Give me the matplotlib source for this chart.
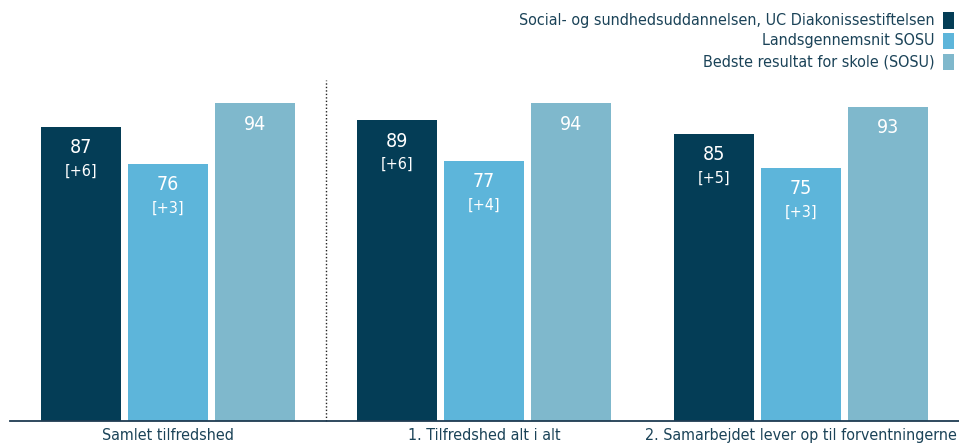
import matplotlib
matplotlib.use("Agg")
import matplotlib.pyplot as plt
from matplotlib.patches import Rectangle

categories = ["Samlet tilfredshed", "1. Tilfredshed alt i alt", "2. Samarbejdet lever op til forventningerne"]
series_names = ["Social- og sundhedsuddannelsen, UC Diakonissestiftelsen",
                "Landsgennemsnit SOSU",
                "Bedste resultat for skole (SOSU)"]
school = [87, 89, 85]
national = [76, 77, 75]
best = [94, 94, 93]
school_change = ["+6", "+6", "+5"]
national_change = ["+3", "+4", "+3"]

colors = ["#043D56", "#5DB5DA", "#7FB8CC"]
text_col = "#1B4358"

plt.rcParams['font.family'] = ['DejaVu Sans']

W, H = 959, 443
fig = plt.figure(figsize=(W/100, H/100), dpi=100)
ax = fig.add_axes([9.5/W, 22/H, 1 - 9.5/W, 338/H])
ax.set_xlim(-0.5, 2.5)
ax.set_ylim(0, 100)

step = 87/316.75
width = 80/316.75
all_vals = [school, national, best]
changes = [school_change, national_change, None]
for j, vals in enumerate(all_vals):
    xs = [i + (j - 1) * step for i in range(len(categories))]
    ax.bar(xs, vals, width=width, color=colors[j], zorder=2)
    for k, (x, v) in enumerate(zip(xs, vals)):
        ax.annotate(str(v), xy=(x, v), xytext=(0, -15), textcoords="offset points",
                    ha="center", va="center", color="white", fontsize=14, fontstretch="condensed")
        if changes[j] is not None:
            ax.annotate(f"[{changes[j][k]}]", xy=(x, v), xytext=(0, -32), textcoords="offset points",
                        ha="center", va="center", color="white", fontsize=11.5, fontstretch="condensed")

ax.axvline(0.5, ymin=0, ymax=(421 - 80) / 338, color="#222222", linestyle=(0, (1, 1.5)), lw=1, clip_on=False, zorder=1)

for s in ["top", "right", "left"]:
    ax.spines[s].set_visible(False)
ax.spines["bottom"].set_color("#1F3B52")
ax.spines["bottom"].set_linewidth(1.3)
ax.set_yticks([])
ax.set_xticks(range(len(categories)))
ax.set_xticklabels(categories, fontsize=11.5, color=text_col, fontstretch="condensed")
ax.tick_params(axis="x", length=0, pad=5)

# legend (manual, right aligned)
rows_y = [20.5, 41, 62]
for name, c, yy in zip(series_names, colors, rows_y):
    fig.text(935/W, 1 - yy/H, name, ha="right", va="center", fontsize=11.5, color=text_col, fontstretch="condensed")
    fig.patches.append(Rectangle((943/W, 1 - (yy + 8)/H), 11/W, 16/H, transform=fig.transFigure,
                                 facecolor=c, edgecolor="none"))

fig.savefig("out.png", dpi=100)
